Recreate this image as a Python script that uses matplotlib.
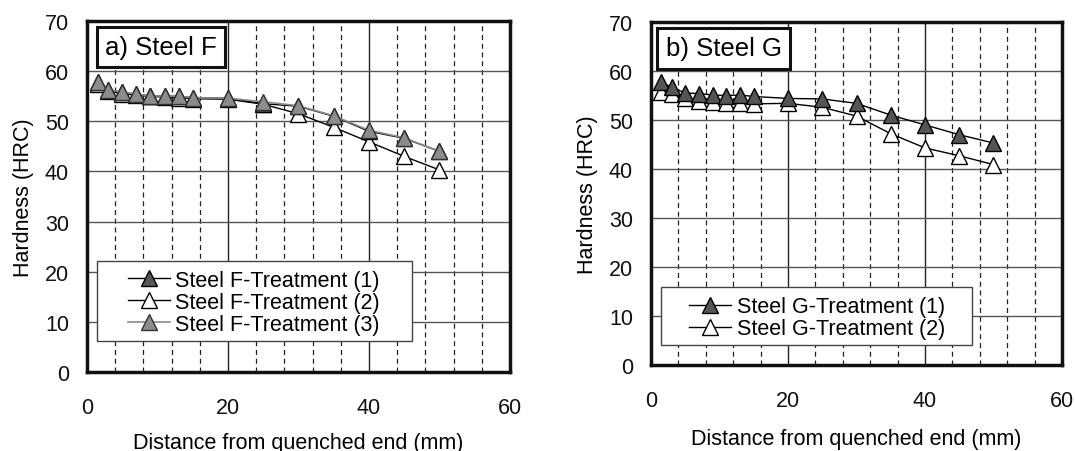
import matplotlib.pyplot as plt
from matplotlib.patches import Rectangle
from matplotlib.ticker import MultipleLocator

plt.rcParams['font.family'] = ['Liberation Sans', 'DejaVu Sans']

# distance from quenched end (mm)
dist = [1.5, 3, 5, 7, 9, 11, 13, 15, 20, 25, 30, 35, 40, 45, 50]

# Steel F hardness (HRC)
f_t1 = [57.8, 56.3, 55.8, 55.4, 55.1, 55.0, 55.0, 54.7, 54.6, 53.5, 53.0, 51.0, 48.0, 46.6, 44.0]
f_t2 = [57.5, 56.0, 55.5, 55.2, 55.0, 54.8, 54.7, 54.5, 54.4, 53.4, 51.5, 48.8, 45.9, 43.0, 40.3]
f_t3 = [57.9, 56.3, 55.8, 55.4, 55.1, 55.0, 55.0, 54.7, 54.6, 53.9, 53.1, 51.1, 48.2, 46.7, 44.0]

# Steel G hardness (HRC)
g_t1 = [57.7, 56.7, 55.5, 55.4, 55.1, 55.0, 55.1, 54.8, 54.4, 54.3, 53.4, 51.0, 49.0, 47.0, 45.3]
g_t2 = [55.8, 55.3, 54.4, 53.9, 53.6, 53.5, 53.5, 53.3, 53.4, 52.6, 50.8, 47.2, 44.3, 42.7, 40.9]

fig = plt.figure(figsize=(10.75, 4.52), dpi=100)
ax1 = fig.add_axes([0.0809, 0.1748, 0.3935, 0.7765])
ax2 = fig.add_axes([0.6056, 0.1903, 0.3823, 0.7588])

ms = 11
fs = 15.5


def style_axes(ax, tag, tag_x, tag_y, lpad):
    ax.set_xlim(0, 60)
    ax.set_ylim(0, 70)
    ax.xaxis.set_major_locator(MultipleLocator(20))
    ax.xaxis.set_minor_locator(MultipleLocator(4))
    ax.yaxis.set_major_locator(MultipleLocator(10))
    ax.grid(True, which='major', axis='y', color='#555555', lw=1.0, ls='-')
    ax.grid(True, which='major', axis='x', color='#222222', lw=1.0, ls='-')
    ax.grid(True, which='minor', axis='x', color='#222222', lw=0.9, ls=(0, (4, 3)))
    ax.set_axisbelow(True)
    for s in ax.spines.values():
        s.set_linewidth(2.5)
        s.set_color('#111111')
    ax.tick_params(which='both', length=0, labelsize=fs, colors='#111111')
    ax.tick_params(axis='x', pad=18)
    ax.tick_params(axis='y', pad=13)
    ax.set_xlabel('Distance from quenched end (mm)', fontsize=fs, labelpad=lpad)
    ax.set_ylabel('Hardness (HRC)', fontsize=fs, labelpad=8)
    ax.text(tag_x, tag_y, tag, transform=ax.transAxes, fontsize=18.5,
            va='center', ha='left', zorder=5,
            bbox=dict(boxstyle='square,pad=0.33', fc='white', ec='#111111', lw=2.2))


def boxed_legend(ax, handles, labels, box, anchor):
    # frame drawn separately so the padding can be wider than tall
    ax.add_patch(Rectangle(box[:2], box[2], box[3], transform=ax.transAxes,
                           fc='white', ec='#444444', lw=1.0, zorder=6))
    leg = ax.legend(handles, labels, loc='upper left', bbox_to_anchor=anchor,
                    fontsize=fs, frameon=False, handlelength=1.95, handletextpad=0.25,
                    borderpad=0, borderaxespad=0, labelspacing=0.05)
    leg.set_zorder(7)


style_axes(ax1, 'a) Steel F', 0.043, 0.926, 10)
ax1.plot(dist, f_t2, color='black', lw=1.0, marker='^', ms=ms, mfc='white', mec='black',
         mew=1.0, label='Steel F-Treatment (2)', zorder=3)
ax1.plot(dist, f_t1, color='black', lw=1.0, marker='^', ms=ms, mfc='#555555', mec='black',
         mew=1.0, label='Steel F-Treatment (1)', zorder=4)
ax1.plot(dist, f_t3, color='#8a8a8a', lw=1.2, marker='^', ms=ms, mfc='#8c8c8c', mec='#333333',
         mew=1.0, label='Steel F-Treatment (3)', zorder=5)
h, l = ax1.get_legend_handles_labels()
boxed_legend(ax1, [h[1], h[0], h[2]], [l[1], l[0], l[2]],
             (0.0236, 0.0883, 0.7447, 0.2277), (0.097, 0.292))

style_axes(ax2, 'b) Steel G', 0.036, 0.923, 12)
ax2.plot(dist, g_t2, color='black', lw=1.0, marker='^', ms=ms, mfc='white', mec='black',
         mew=1.0, label='Steel G-Treatment (2)', zorder=3)
ax2.plot(dist, g_t1, color='black', lw=1.0, marker='^', ms=ms, mfc='#555555', mec='black',
         mew=1.0, label='Steel G-Treatment (1)', zorder=4)
h, l = ax2.get_legend_handles_labels()
boxed_legend(ax2, [h[1], h[0]], [l[1], l[0]],
             (0.0243, 0.0583, 0.7567, 0.1691), (0.093, 0.201))

fig.savefig('out.png', dpi=100)
